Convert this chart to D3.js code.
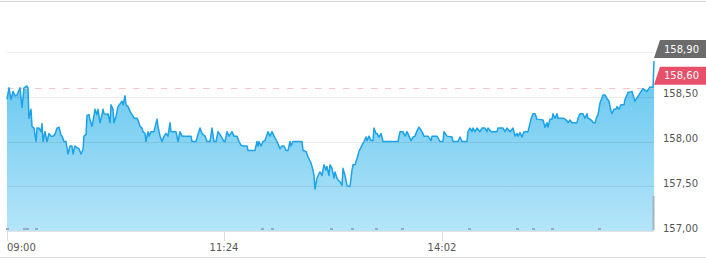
<!DOCTYPE html>
<html><head><meta charset="utf-8">
<script src="https://cdn.jsdelivr.net/npm/d3@7"></script>
<style>html,body{margin:0;padding:0;background:#fff;}svg{display:block;font-family:"DejaVu Sans",Verdana,sans-serif;}</style>
</head><body><svg id="c" width="706" height="261"></svg>
<script>
// trade sequence number and price
const seq = [0,2,4,6,8,10,13,15,17,20,21,22,24,25,27,29,30,32,34,35,36,38,40,42,44,46,48,50,52,54,55,57,59,61,63,65,66,68,70,72,74,76,77,79,80,82,83,85,87,88,90,91,93,95,96,97,100,101,103,104,106,107,109,111,113,115,116,118,119,121,123,125,127,130,131,133,135,136,138,139,141,142,144,147,150,151,153,155,157,159,161,163,164,166,169,171,173,175,178,184,185,189,191,193,195,198,200,203,205,207,209,211,213,215,217,218,220,222,225,227,230,232,234,236,240,241,246,248,250,251,252,254,256,258,261,263,265,267,268,270,273,275,277,279,281,283,284,286,290,295,296,299,301,304,306,307,308,310,312,313,315,317,319,320,322,323,325,327,328,330,331,333,335,336,338,340,341,343,345,346,348,350,352,355,357,359,360,362,364,366,367,369,370,372,374,376,380,386,391,393,396,398,400,402,404,406,408,410,412,415,417,421,424,425,430,433,436,437,440,445,446,451,453,455,460,461,463,465,466,468,470,473,475,478,480,481,484,490,491,496,498,500,503,506,508,510,511,513,515,517,521,524,526,528,530,536,538,540,541,543,545,546,548,550,551,556,558,560,561,563,565,570,571,573,576,578,580,581,583,585,586,588,590,591,593,595,596,598,600,602,604,605,607,609,610,612,614,617,618,620,621,623,625,628,633,636,640,643,646,647];
const prices = [158.47,158.60,158.47,158.56,158.51,158.52,158.60,158.38,158.60,158.62,158.60,158.26,158.36,158.17,158.15,158.00,158.15,158.15,158.11,158.20,158.00,158.11,158.00,158.09,158.06,158.06,158.08,158.15,158.16,158.07,158.06,158.00,158.00,157.86,157.95,157.95,157.86,157.95,157.93,157.92,157.86,157.91,158.06,158.08,158.29,158.30,158.24,158.17,158.29,158.36,158.30,158.36,158.21,158.30,158.36,158.31,158.30,158.31,158.21,158.41,158.36,158.21,158.28,158.39,158.42,158.45,158.41,158.51,158.41,158.39,158.34,158.30,158.26,158.26,158.24,158.17,158.15,158.11,158.09,158.00,158.11,158.06,158.11,158.11,158.25,158.17,158.06,158.00,158.06,158.09,158.06,158.21,158.11,158.11,158.11,158.00,158.11,158.06,158.06,158.06,158.00,158.00,158.08,158.15,158.09,158.06,158.00,158.00,158.15,158.00,158.00,158.11,158.08,158.04,158.00,158.00,158.11,158.06,158.11,158.06,158.06,158.00,157.96,157.95,157.95,157.90,157.90,157.90,158.00,157.95,158.00,157.95,158.00,158.01,158.11,158.06,158.11,158.06,158.04,158.00,157.92,157.95,157.95,157.90,157.90,158.00,157.95,158.00,158.00,158.00,157.90,157.89,157.83,157.76,157.68,157.62,157.47,157.59,157.64,157.66,157.62,157.74,157.68,157.72,157.62,157.74,157.70,157.59,157.66,157.59,157.57,157.55,157.51,157.70,157.62,157.51,157.50,157.50,157.68,157.74,157.74,157.81,157.89,157.96,158.00,158.05,158.01,158.06,158.01,158.01,158.15,158.09,158.09,158.05,158.09,158.00,158.00,158.00,158.00,158.11,158.11,158.06,158.11,158.06,158.01,158.05,158.06,158.12,158.16,158.11,158.06,158.06,158.01,158.06,158.06,158.00,158.00,158.11,158.06,158.05,158.00,158.00,158.05,158.00,158.00,158.11,158.15,158.11,158.15,158.11,158.15,158.11,158.15,158.15,158.11,158.15,158.11,158.11,158.15,158.15,158.11,158.15,158.11,158.15,158.06,158.09,158.06,158.10,158.05,158.11,158.11,158.25,158.31,158.31,158.25,158.24,158.16,158.21,158.16,158.25,158.25,158.31,158.26,158.31,158.26,158.26,158.25,158.23,158.21,158.24,158.21,158.21,158.26,158.31,158.31,158.26,158.31,158.26,158.25,158.23,158.21,158.21,158.28,158.30,158.43,158.49,158.52,158.52,158.48,158.45,158.34,158.31,158.36,158.36,158.39,158.36,158.41,158.41,158.47,158.52,158.55,158.55,158.56,158.45,158.54,158.59,158.56,158.61,158.60,158.90];
const seqMax = 647;
const tickSeq = [0, 217, 435];
const tickLabels = ["09:00", "11:24", "14:02"];
const yTicks = [157, 157.5, 158, 158.5, 159];
const yTickLabels = ["157,00", "157,50", "158,00", "158,50", ""];
const volSeq = [0, 17, 20, 29, 255, 265, 324, 345, 369, 395, 462, 510, 526, 545, 592, 646];
const volumes = [1, 1, 1, 1, 1, 1, 1, 1, 1, 1, 1, 1, 1, 1, 1, 17];
const prevClose = 158.60, prevCloseLabel = "158,60";
const lastPrice = 158.90, lastLabel = "158,90";

const W = 706, H = 261;
const L = 7, R = 654, T = 52, B = 231;
const svg = d3.select("#c");
const x = d3.scaleLinear().domain([0, seqMax]).range([L, R]);
const y = d3.scaleLinear().domain([157, 159]).range([B, T]);
const yv = d3.scaleLinear().domain([0, 20]).range([0, 40]);
const data = seq.map((s, i) => ({s, p: prices[i]}));

// frame borders
svg.append("line").attr("x1",0).attr("x2",W).attr("y1",1.5).attr("y2",1.5).attr("stroke","#d4d4d4");
svg.append("line").attr("x1",0).attr("x2",W).attr("y1",257.5).attr("y2",257.5).attr("stroke","#dcdcdc");

const defs = svg.append("defs");
const g = defs.append("linearGradient").attr("id","fill").attr("gradientUnits","userSpaceOnUse")
  .attr("x1",0).attr("x2",0).attr("y1",T).attr("y2",B);
g.append("stop").attr("offset","0").attr("stop-color","#5cc3ef");
g.append("stop").attr("offset","1").attr("stop-color","#b5e5f8");

// area
svg.append("path").datum(data)
  .attr("d", d3.area().x(d=>x(d.s)).y0(B).y1(d=>y(d.p)))
  .attr("fill","url(#fill)");

// grid lines
svg.append("g").selectAll("line").data(yTicks).join("line")
  .attr("x1",L).attr("x2",R)
  .attr("y1",d=>Math.round(y(d))+0.5).attr("y2",d=>Math.round(y(d))+0.5)
  .attr("stroke","rgba(0,0,0,0.075)");

// volume
svg.append("g").selectAll("rect").data(volSeq).join("rect")
  .attr("x",(d,i)=> i === volSeq.length-1 ? x(d)-0.5 : x(d)-1)
  .attr("width",(d,i)=> i === volSeq.length-1 ? 2 : 3)
  .attr("y",(d,i)=>B - 1 - yv(volumes[i]))
  .attr("height",(d,i)=>yv(volumes[i]))
  .attr("fill",(d,i)=> i === volSeq.length-1 ? "#a2b4bd" : "#94adbb");

// previous close dashed line
svg.append("line").attr("x1",L).attr("x2",R)
  .attr("y1",Math.round(y(prevClose))+0.5).attr("y2",Math.round(y(prevClose))+0.5)
  .attr("stroke","#f7c3ca").attr("stroke-dasharray","6.5,7.5");

// price line
svg.append("path").datum(data)
  .attr("d", d3.line().x(d=>x(d.s)).y(d=>y(d.p)))
  .attr("fill","none").attr("stroke","#1ca2e8").attr("stroke-width",1.5).attr("stroke-linejoin","round");

// x axis line and ticks
svg.append("line").attr("x1",L).attr("x2",R).attr("y1",B+0.5).attr("y2",B+0.5).attr("stroke","#e2e2e2");
const xt = svg.append("g");
xt.selectAll("line").data(tickSeq).join("line")
  .attr("x1",d=>Math.round(x(d))+0.5).attr("x2",d=>Math.round(x(d))+0.5)
  .attr("y1",B).attr("y2",B+10).attr("stroke","#dcdcdc");
xt.selectAll("text").data(tickSeq).join("text")
  .attr("x",d=>x(d)).attr("y",251)
  .attr("text-anchor",(d,i)=> i===0 ? "start" : "middle")
  .attr("font-size",10).attr("fill","#555")
  .text((d,i)=>tickLabels[i]);

// y axis labels
svg.append("g").selectAll("text").data(yTicks).join("text")
  .attr("x",663).attr("y",d=>y(d)+0.5)
  .attr("font-size",10).attr("fill","#555")
  .text((d,i)=>yTickLabels[i]);

// price tags
function tag(v, label, color) {
  const yb = y(v) - 3, yt = yb - 18;
  svg.append("path")
    .attr("d", `M${R},${yb}L${R+6},${yt}L${W},${yt}L${W},${yb}Z`)
    .attr("fill", color);
  svg.append("text").attr("x",681.5).attr("y",(yb+yt)/2+3.6)
    .attr("text-anchor","middle").attr("font-size",10).attr("fill","#fff").text(label);
}
tag(lastPrice, lastLabel, "#6b6b6b");
tag(prevClose, prevCloseLabel, "#e8506a");
</script></body></html>
